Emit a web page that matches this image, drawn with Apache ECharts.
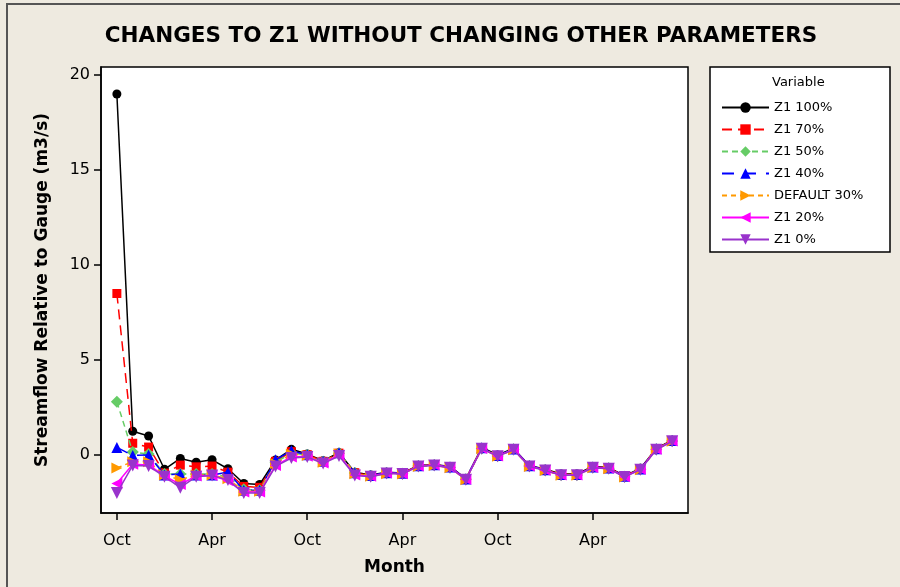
<!DOCTYPE html>
<html>
<head>
<meta charset="utf-8">
<script src="https://cdn.jsdelivr.net/npm/echarts@6/dist/echarts.min.js"></script>
<style>
  html, body { margin: 0; padding: 0; background: #eeeae0; }
  #chart { width: 900px; height: 587px; }
</style>
</head>
<body>
<div id="chart"></div>
<script>
// months: Oct (year 1) .. Sep (year 3), index 0..35
var months = ['Oct','Nov','Dec','Jan','Feb','Mar','Apr','May','Jun','Jul','Aug','Sep',
              'Oct','Nov','Dec','Jan','Feb','Mar','Apr','May','Jun','Jul','Aug','Sep',
              'Oct','Nov','Dec','Jan','Feb','Mar','Apr','May','Jun','Jul','Aug','Sep'];
var xTickPos = [0, 6, 12, 18, 24, 30];
var yTickPos = [0, 5, 10, 15, 20];

var seriesNames = ['Z1 100%', 'Z1 70%', 'Z1 50%', 'Z1 40%', 'DEFAULT 30%', 'Z1 20%', 'Z1 0%'];

var z1_100 = [19.0, 1.25, 1.0, -0.75, -0.18, -0.38, -0.25, -0.72, -1.5, -1.55, -0.26, 0.3,
              0.05, -0.3, 0.12, -0.9, -1.05, -0.9, -0.95, -0.55, -0.5, -0.6, -1.25, 0.4,
              0.0, 0.35, -0.55, -0.75, -1.0, -1.0, -0.6, -0.65, -1.1, -0.7, 0.35, 0.78];
var z1_70  = [8.5, 0.62, 0.42, -0.95, -0.53, -0.62, -0.58, -0.9, -1.65, -1.7, -0.33, 0.18,
              0.02, -0.33, 0.1, -0.93, -1.08, -0.93, -0.97, -0.57, -0.52, -0.62, -1.27, 0.37,
              -0.03, 0.32, -0.57, -0.78, -1.03, -1.03, -0.62, -0.68, -1.12, -0.72, 0.32, 0.76];
var z1_50  = [2.8, 0.16, 0.05, -1.0, -1.0, -1.0, -1.0, -1.15, -1.8, -1.85, -0.38, 0.1,
              0.0, -0.35, 0.1, -0.95, -1.1, -0.95, -0.98, -0.58, -0.53, -0.65, -1.28, 0.35,
              -0.05, 0.3, -0.58, -0.8, -1.05, -1.05, -0.65, -0.7, -1.14, -0.75, 0.3, 0.74];
var z1_40  = [0.4, -0.02, 0.0, -1.05, -1.0, -1.05, -1.05, -0.9, -1.85, -1.85, -0.25, 0.22,
              0.02, -0.33, 0.12, -0.93, -1.08, -0.93, -0.96, -0.56, -0.51, -0.63, -1.26, 0.38,
              -0.03, 0.32, -0.56, -0.78, -1.03, -1.03, -0.63, -0.68, -1.12, -0.73, 0.33, 0.76];
var def_30 = [-0.68, -0.35, -0.35, -1.05, -1.3, -1.05, -1.05, -1.25, -1.9, -1.9, -0.45, 0.05,
              -0.03, -0.38, 0.07, -0.98, -1.12, -0.98, -1.0, -0.6, -0.55, -0.67, -1.3, 0.33,
              -0.07, 0.28, -0.6, -0.82, -1.07, -1.07, -0.67, -0.72, -1.16, -0.77, 0.28, 0.72];
var z1_20  = [-1.5, -0.48, -0.52, -1.1, -1.55, -1.1, -1.08, -1.35, -1.95, -1.95, -0.55, -0.1,
              -0.07, -0.42, 0.0, -1.05, -1.12, -0.95, -0.98, -0.58, -0.53, -0.65, -1.28, 0.35,
              -0.05, 0.3, -0.58, -0.8, -1.05, -1.05, -0.65, -0.7, -1.14, -0.75, 0.3, 0.74];
var z1_0   = [-2.0, -0.55, -0.58, -1.14, -1.72, -1.14, -1.08, -1.32, -2.0, -2.0, -0.6, -0.16,
              -0.1, -0.45, -0.05, -1.08, -1.14, -0.97, -1.0, -0.6, -0.55, -0.67, -1.3, 0.33,
              -0.07, 0.28, -0.6, -0.82, -1.07, -1.07, -0.67, -0.72, -1.16, -0.77, 0.28, 0.72];

var seriesValues = [z1_100, z1_70, z1_50, z1_40, def_30, z1_20, z1_0];
var seriesColors = ['#000000', '#ff0000', '#66cc66', '#0000ff', '#ff9900', '#ff00ff', '#9933cc'];
var seriesSymbols = ['circle', 'rect', 'diamond', 'triangle', 'triangle', 'triangle', 'triangle'];
var symbolRotates = [0, 0, 0, 0, -90, 90, 180];
var symbolSizes = [9, 9, 12, 11, 11, 11, 12];
var lineTypes = ['solid', [10, 6], [6, 4], [12, 10], [5, 4], 'solid', 'solid'];

var FONT = 'DejaVu Sans';

var myChart = echarts.init(document.getElementById('chart'));

var series = [];
for (var s = 0; s < seriesNames.length; s++) {
    var pts = [];
    for (var i = 0; i < seriesValues[s].length; i++) {
        pts.push([i, seriesValues[s][i]]);
    }
    series.push({
        name: seriesNames[s],
        type: 'line',
        data: pts,
        symbol: seriesSymbols[s],
        symbolSize: symbolSizes[s],
        symbolRotate: symbolRotates[s],
        showAllSymbol: true,
        color: seriesColors[s],
        itemStyle: { color: seriesColors[s] },
        lineStyle: { color: seriesColors[s], width: 1.5, type: lineTypes[s] },
        animation: false,
        z: 2 + s
    });
}

option = {
    backgroundColor: '#eeeae0',
    textStyle: { fontFamily: FONT },
    graphic: [
        { type: 'line', shape: { x1: 6, y1: 4, x2: 900, y2: 4 }, style: { stroke: '#555555', lineWidth: 2 } },
        { type: 'line', shape: { x1: 7, y1: 4, x2: 7, y2: 587 }, style: { stroke: '#555555', lineWidth: 2 } },
        {
            type: 'text', x: 461, y: 36,
            style: {
                text: 'CHANGES TO Z1 WITHOUT CHANGING OTHER PARAMETERS',
                font: 'bold 21.5px "DejaVu Sans"',
                fill: '#000', align: 'center', verticalAlign: 'middle'
            }
        },
        {
            type: 'rect', shape: { x: 710, y: 67, width: 180, height: 185 },
            style: { fill: '#ffffff', stroke: '#000000', lineWidth: 1.5 }, z: 0
        },
        {
            type: 'text', x: 772, y: 83,
            style: { text: 'Variable', font: '13px "DejaVu Sans"', fill: '#000', verticalAlign: 'middle' }, z: 10
        }
    ],
    legend: {
        data: seriesNames,
        orient: 'vertical',
        left: 716,
        top: 96,
        itemWidth: 47,
        itemHeight: 13,
        itemGap: 9,
        textStyle: { fontSize: 13, color: '#000', fontFamily: FONT },
        z: 10
    },
    grid: {
        left: 101,
        right: 212,
        top: 67,
        bottom: 74,
        show: true,
        backgroundColor: '#ffffff',
        borderColor: '#000000',
        borderWidth: 1.5
    },
    xAxis: {
        type: 'value',
        min: -1,
        max: 36,
        name: 'Month',
        nameLocation: 'middle',
        nameGap: 46,
        nameTextStyle: { fontSize: 17, fontWeight: 'bold', color: '#000' },
        axisLine: { show: true, onZero: false, lineStyle: { color: '#000', width: 1.5 } },
        axisTick: { show: true, length: 7, customValues: xTickPos, lineStyle: { color: '#000', width: 1.5 } },
        axisLabel: {
            customValues: xTickPos,
            formatter: function (v) { return months[Math.round(v)]; },
            fontSize: 16, color: '#000', margin: 20
        },
        splitLine: { show: false }
    },
    yAxis: {
        type: 'value',
        min: -3.05,
        max: 20.42,
        name: 'Streamflow Relative to Gauge (m3/s)',
        nameLocation: 'middle',
        nameGap: 50,
        nameTextStyle: { fontSize: 17, fontWeight: 'bold', color: '#000' },
        axisLine: { show: true, onZero: false, lineStyle: { color: '#000', width: 1.5 } },
        axisTick: { show: true, length: 7, customValues: yTickPos, lineStyle: { color: '#000', width: 1.5 } },
        axisLabel: { customValues: yTickPos, fontSize: 16, color: '#000', margin: 11 },
        splitLine: { show: false }
    },
    series: series
};

myChart.setOption(option);
</script>
</body>
</html>
